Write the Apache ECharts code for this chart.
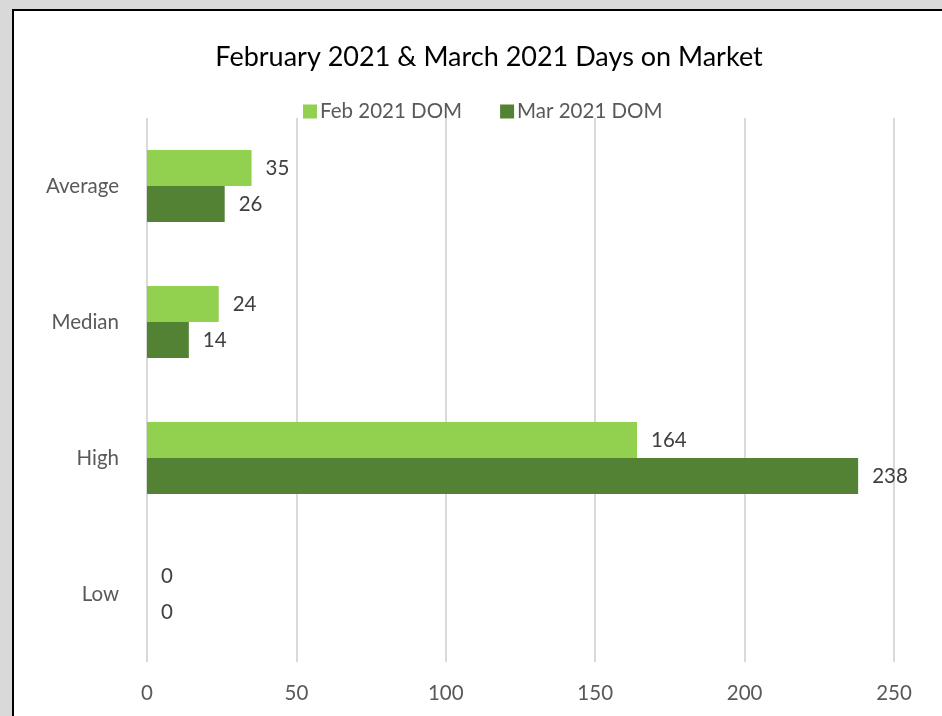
<!DOCTYPE html>
<html>
<head>
<meta charset="utf-8">
<script src="https://cdn.jsdelivr.net/npm/echarts@6/dist/echarts.min.js"></script>
<style>
  html, body { margin: 0; padding: 0; background: #d9d9d9; width: 942px; height: 716px; overflow: hidden; }
  #frame { position: absolute; left: 12px; top: 9px; width: 960px; height: 760px; background: #fff; border: 2px solid #000; }
  #chart { position: absolute; left: 0; top: 0; width: 942px; height: 716px; }
</style>
</head>
<body>
<div id="frame"></div>
<div id="chart"></div>
<script>
const titleText = 'February 2021 & March 2021 Days on Market';
const categories = ['Average', 'Median', 'High', 'Low'];
const seriesNames = ['Feb 2021 DOM', 'Mar 2021 DOM'];
const febValues = [35, 24, 164, 0];
const marValues = [26, 14, 238, 0];
const xTicks = [0, 50, 100, 150, 200, 250];

const FONT = 'Lato, "Open Sans", sans-serif';
const chart = echarts.init(document.getElementById('chart'), null, { renderer: 'canvas' });

const labelStyle = {
  show: true,
  position: 'right',
  distance: 14,
  color: '#404040',
  fontSize: 20.5,
  fontFamily: FONT
};

chart.setOption({
  backgroundColor: 'transparent',
  animation: false,
  title: {
    text: titleText,
    left: 484,
    textAlign: 'center',
    top: 39,
    textStyle: { color: '#000', fontSize: 27, fontWeight: 'normal', fontFamily: FONT }
  },
  legend: {
    data: seriesNames,
    left: 298,
    top: 96,
    itemWidth: 14,
    itemHeight: 14,
    itemGap: 38,
    icon: 'rect',
    textStyle: { color: '#595959', fontSize: 20.5, fontFamily: FONT, padding: [0, 0, 0, -2] }
  },
  grid: { left: 147, top: 118, width: 747, height: 544, containLabel: false },
  xAxis: {
    type: 'value',
    min: xTicks[0],
    max: xTicks[xTicks.length - 1],
    interval: xTicks[1] - xTicks[0],
    axisLine: { show: false },
    axisTick: { show: false },
    splitLine: { show: true, lineStyle: { color: '#d9d9d9', width: 2 } },
    axisLabel: { color: '#595959', fontSize: 20.5, fontFamily: FONT, margin: 21 }
  },
  yAxis: {
    type: 'category',
    data: categories,
    inverse: true,
    axisLine: { show: false },
    axisTick: { show: false },
    axisLabel: { color: '#595959', fontSize: 20.5, fontFamily: FONT, margin: 28 }
  },
  series: [
    {
      name: seriesNames[0],
      type: 'bar',
      data: febValues,
      barWidth: 36,
      barGap: '0%',
      itemStyle: { color: '#92d050' },
      label: labelStyle
    },
    {
      name: seriesNames[1],
      type: 'bar',
      data: marValues,
      barWidth: 36,
      barGap: '0%',
      itemStyle: { color: '#548235' },
      label: labelStyle
    }
  ]
});
</script>
</body>
</html>
